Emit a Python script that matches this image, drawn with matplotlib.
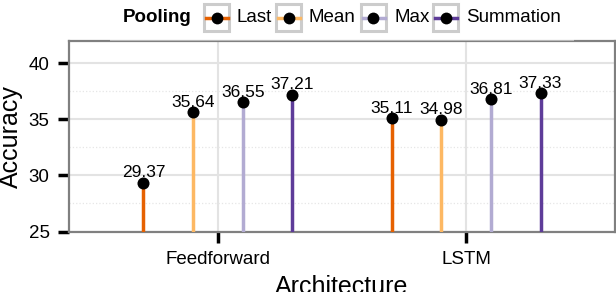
import numpy as np
import matplotlib
matplotlib.use('Agg')
import matplotlib.pyplot as plt
from matplotlib.patches import Rectangle
from matplotlib.lines import Line2D

plt.rcParams['font.family'] = ['Liberation Sans', 'DejaVu Sans']

# Data
architectures = ['Feedforward', 'LSTM']
poolings = ['Last', 'Mean', 'Max', 'Summation']
colors = ['#e66101', '#fdb863', '#b2abd2', '#5e3c99']
acc_last = [29.37, 35.11]
acc_mean = [35.64, 34.98]
acc_max = [36.55, 36.81]
acc_sum = [37.21, 37.33]
all_acc = [acc_last, acc_mean, acc_max, acc_sum]

W, H = 616, 292
fx = lambda px: px / W
fy = lambda py: 1 - py / H

fig = plt.figure(figsize=(W / 100, H / 100), dpi=100)
ax = fig.add_axes([fx(69), fy(231.5), fx(615) - fx(69), fy(41) - fy(231.5)])

x = np.arange(1, len(architectures) + 1)
offsets = [-0.3, -0.1, 0.1, 0.3]
for vals, off, c in zip(all_acc, offsets, colors):
    xs = x + off
    ax.vlines(xs, 25, vals, color=c, lw=2.5, zorder=3)
    ax.scatter(xs, vals, s=75, color='black', zorder=4, linewidths=0)
    for xi, v in zip(xs, vals):
        ax.annotate(f'{v:.2f}', (xi, v), xytext=(0, 4), textcoords='offset points',
                    ha='center', va='baseline', fontsize=12.5, zorder=5)

# Axes formatting
ax.set_xlim(0.4, 2.6)
ax.set_ylim(25, 42)
ax.set_xticks(x, architectures)
ax.set_yticks([25, 30, 35, 40])
ax.set_yticks([27.5, 32.5, 37.5], minor=True)
ax.set_axisbelow(True)
ax.grid(which='major', color='#e3e3e3', lw=1.5)
ax.yaxis.grid(which='minor', color='#e6e6e6', lw=0.9, ls=':')
for sp in ax.spines.values():
    sp.set_color('#808080')
    sp.set_linewidth(1.6)
ax.tick_params(axis='both', which='major', length=8, width=2.5, color='black',
               labelsize=13.5, direction='out')
ax.tick_params(axis='y', pad=6)
ax.tick_params(axis='x', pad=6)
ax.tick_params(which='minor', length=0)
ax.set_ylabel('Accuracy', fontsize=18, labelpad=4)
ax.set_xlabel('Architecture', fontsize=18, labelpad=5)

# legend background slightly washing out the top border
fig.patches.append(Rectangle((fx(110), fy(41)), (574 - 110) / W, 41 / H, transform=fig.transFigure,
                             facecolor='white', edgecolor='none', alpha=0.45, zorder=1))

# Legend (drawn by hand to get the boxed keys)
fig.text(fx(123), fy(17), 'Pooling', fontsize=13.5, fontweight='bold', va='center', ha='left', zorder=4)
key_left = [204, 276, 361, 433]
label_left = [236, 309, 394, 466]
kw, kh = 25, 27
for name, c, kl, ll in zip(poolings, colors, key_left, label_left):
    fig.patches.append(Rectangle((fx(kl), fy(4 + kh)), kw / W, kh / H, transform=fig.transFigure,
                                 facecolor='white', edgecolor='#cccccc', lw=2.2, zorder=2))
    fig.lines.append(Line2D([fx(kl + 1.5), fx(kl + kw - 1.5)], [fy(17.5), fy(17.5)],
                            transform=fig.transFigure, color=c, lw=2.5, zorder=3))
    fig.lines.append(Line2D([fx(kl + kw / 2)], [fy(17.5)], transform=fig.transFigure,
                            marker='o', ms=8.5, color='black', mew=0, zorder=3.5))
    fig.text(fx(ll), fy(17), name, fontsize=13.5, va='center', ha='left', zorder=4)

fig.savefig('out.png', dpi=100)
